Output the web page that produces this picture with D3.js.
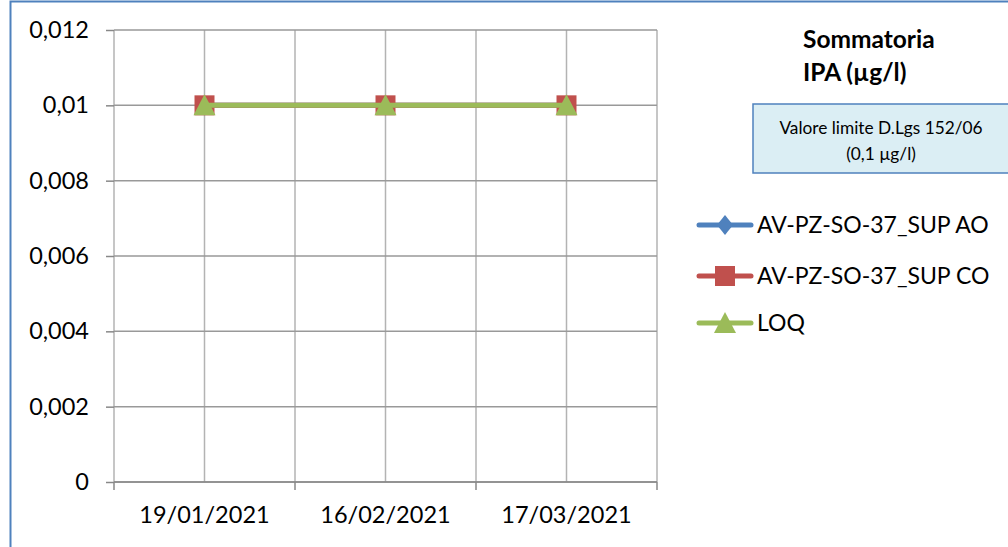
<!DOCTYPE html>
<html lang="en">
<head>
<meta charset="UTF-8">
<title>Sommatoria IPA</title>
<script src="https://cdnjs.cloudflare.com/ajax/libs/d3/7.8.5/d3.min.js"></script>
<style>
	body { margin: 0; background: #fff; }
	svg { display: block; }
	svg text { font-family: Lato, "Open Sans", sans-serif; fill: #000; }
	.grid line { stroke: #b3b3b3; stroke-width: 1.5; }
	.axis path, .axis line { stroke: #888; stroke-width: 1.5; }
	.axis text { font-size: 23.5px; }
</style>
</head>
<body>
<div id="chart"></div>
<script>
	// dates (categories)
	var dates = ["19/01/2021", "16/02/2021", "17/03/2021"];
	// series values
	var ao = [0.01, 0.01, 0.01];
	var co = [0.01, 0.01, 0.01];
	var loq = [0.01, 0.01, 0.01];
	var seriesNames = ["AV-PZ-SO-37_SUP AO", "AV-PZ-SO-37_SUP CO", "LOQ"];
	var seriesColors = ["#4f81bd", "#c0504d", "#9bbb59"];
	var seriesShapes = ["diamond", "square", "triangle"];
	var yTicks = [0, 0.002, 0.004, 0.006, 0.008, 0.01, 0.012];

	var W = 1008, H = 547;
	var plot = { left: 114, right: 657, top: 30, bottom: 482 };

	var svg = d3.select("#chart").append("svg")
		.attr("width", W).attr("height", H);

	// outer frame
	svg.append("path")
		.attr("d", "M10.5," + H + "V1.5H" + W)
		.attr("fill", "none").attr("stroke", "#4f81bd").attr("stroke-width", 2);

	var x = d3.scaleBand().domain(dates).range([plot.left, plot.right]);
	var y = d3.scaleLinear().domain([0, 0.012]).range([plot.bottom, plot.top]);

	// vertical gridlines: category centres and boundaries
	var vLines = [];
	dates.forEach(function(d, i) {
		if (i == 0) vLines.push(x(d));
		vLines.push(x(d) + x.bandwidth() / 2);
		vLines.push(x(d) + x.bandwidth());
	});
	svg.append("g").attr("class", "grid")
		.selectAll("line").data(vLines).enter().append("line")
		.attr("x1", function(d) { return d; }).attr("x2", function(d) { return d; })
		.attr("y1", plot.top).attr("y2", plot.bottom);

	svg.append("g").attr("class", "grid")
		.selectAll("line").data(yTicks).enter().append("line")
		.attr("x1", plot.left).attr("x2", plot.right)
		.attr("y1", function(d) { return y(d); }).attr("y2", function(d) { return y(d); })
		.style("stroke", "#999");

	var fmt = function(d) { return d === 0 ? "0" : String(d).replace(".", ","); };

	var yAxis = svg.append("g").attr("class", "axis")
		.attr("transform", "translate(" + plot.left + ",0)")
		.call(d3.axisLeft(y).tickValues(yTicks).tickFormat(fmt).tickSize(8).tickPadding(17));
	yAxis.select(".domain").remove();

	var xAxis = svg.append("g").attr("class", "axis")
		.attr("transform", "translate(0," + plot.bottom + ")")
		.call(d3.axisBottom(x).tickSize(0).tickPadding(24));
	xAxis.select(".domain").attr("d", "M" + plot.left + ",0H" + plot.right);
	// boundary tick marks
	xAxis.selectAll(".bt").data(vLines.filter(function(d, i) { return i % 2 == 0; }))
		.enter().append("line").attr("class", "bt")
		.attr("x1", function(d) { return d; }).attr("x2", function(d) { return d; })
		.attr("y1", 0).attr("y2", 8);

	function symbolPath(shape) {
		if (shape == "diamond") return "M0,-10L8,0L0,10L-8,0Z";
		if (shape == "square") return "M-10,-10H10V10H-10Z";
		return "M0,-11L11,10H-11Z";
	}

	var seriesData = [ao, co, loq];
	var line = d3.line()
		.x(function(d, i) { return x(dates[i]) + x.bandwidth() / 2; })
		.y(function(d) { return y(d); });

	seriesData.forEach(function(vals, s) {
		var g = svg.append("g");
		g.append("path").datum(vals).attr("d", line)
			.attr("fill", "none").attr("stroke", seriesColors[s])
			.attr("stroke-width", 5).attr("stroke-linecap", "round");
		g.selectAll("path.m").data(vals).enter().append("path").attr("class", "m")
			.attr("transform", function(d, i) {
				return "translate(" + (x(dates[i]) + x.bandwidth() / 2) + "," + y(d) + ")";
			})
			.attr("d", symbolPath(seriesShapes[s]))
			.attr("fill", seriesColors[s]);
	});

	// title
	var title = svg.append("text").attr("x", 803).attr("y", 48)
		.style("font-size", "24.5px").style("font-weight", "bold");
	title.append("tspan").attr("x", 803).text("Sommatoria");
	title.append("tspan").attr("x", 803).attr("dy", 33).text("IPA (µg/l)");

	// limit box
	svg.append("rect").attr("x", 753).attr("y", 104).attr("width", 270).attr("height", 69)
		.attr("fill", "#dbeef4").attr("stroke", "#4f81bd").attr("stroke-width", 1.5);
	svg.append("text").attr("x", 881).attr("y", 134).attr("text-anchor", "middle")
		.style("font-size", "17.3px").text("Valore limite D.Lgs 152/06");
	svg.append("text").attr("x", 881).attr("y", 160).attr("text-anchor", "middle")
		.style("font-size", "17.3px").text("(0,1 µg/l)");

	// legend
	var legY = [225, 276, 323];
	seriesNames.forEach(function(name, s) {
		var g = svg.append("g").attr("transform", "translate(0," + legY[s] + ")");
		g.append("line").attr("x1", 699).attr("x2", 751).attr("y1", 0).attr("y2", 0)
			.attr("stroke", seriesColors[s]).attr("stroke-width", 5).attr("stroke-linecap", "round");
		g.append("path").attr("transform", "translate(725,0)")
			.attr("d", symbolPath(seriesShapes[s])).attr("fill", seriesColors[s]);
		g.append("text").attr("x", 757).attr("y", 8).style("font-size", "23px").text(name);
	});
</script>
</body>
</html>
